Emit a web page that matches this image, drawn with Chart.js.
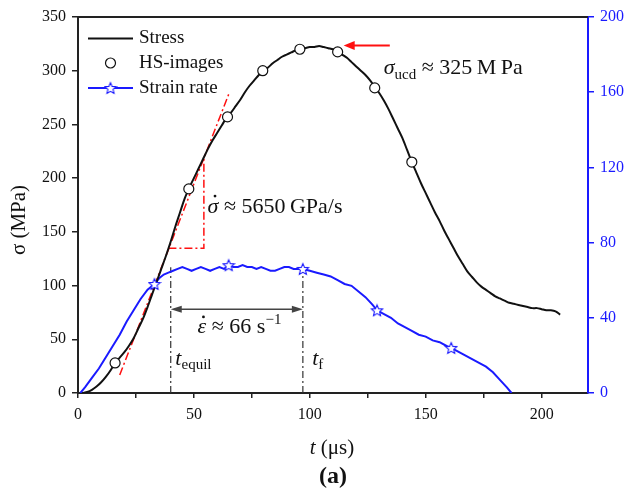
<!DOCTYPE html>
<html>
<head>
<meta charset="utf-8">
<script src="https://cdn.jsdelivr.net/npm/chart.js@4/dist/chart.umd.min.js"></script>
<style>
  html, body { margin: 0; padding: 0; background: #fff; }
</style>
</head>
<body>
<canvas id="chart" width="627" height="492"></canvas>
<script>
const SERIF = '"Liberation Serif", "Times New Roman", serif';

// stress vs time (MPa)
const stressT = [2, 4, 6, 8, 10, 12, 14, 16, 18, 20, 22, 24, 26, 28, 30, 32, 34, 36, 38, 40,
  42, 44, 46, 48, 50, 52, 54, 56, 58, 60, 62, 64, 66, 68, 70, 72, 74, 76, 78, 80,
  82, 84, 86, 88, 90, 92, 94, 96, 98, 100, 102, 104, 106, 108, 110, 112, 114, 116, 118, 120,
  122, 124, 126, 128, 130, 132, 134, 136, 138, 140, 142, 144, 146, 148, 150, 152, 154, 156, 158, 160,
  162, 164, 166, 168, 170, 172, 174, 176, 178, 180, 182, 184, 186, 188, 190, 192, 194, 196, 198, 200,
  202, 204, 206, 208];
const stressVal = [0, 1, 3, 6, 10, 15, 21, 28, 33, 38, 44, 51, 60, 69, 80, 92, 104, 116, 128, 141,
  155, 168, 181, 191, 200, 209, 218, 227, 235, 242, 249, 256, 261, 267, 273, 280, 286, 291, 296, 300,
  303, 307, 310, 313, 315, 317, 319, 320, 321, 322, 322, 323, 322, 321, 320, 318, 315, 312, 308, 304,
  300, 296, 291, 285, 279, 272, 264, 255, 246, 237, 226, 215, 205, 195, 186, 177, 168, 160, 151, 143,
  135, 127, 120, 113, 108, 103, 99, 96, 93, 90, 88, 86, 84, 83, 82, 81, 80, 79, 79, 78,
  77, 77, 76, 73];

// high-speed image frames on the stress curve
const imgT = [16, 47.8, 64.5, 79.7, 95.7, 112, 128, 144];
const imgVal = [28, 190, 257, 300, 320, 317.5, 284, 215];

// strain rate vs time (1/s), right axis
const rateT = [1, 3, 6, 9, 12, 15, 18, 21, 24, 27, 30, 33, 35, 37, 39, 41, 43, 45, 47, 49,
  51, 53, 55, 57, 59, 61, 63, 65, 67, 69, 71, 73, 75, 77, 79, 81, 83, 85, 87, 89,
  91, 93, 95, 97, 100, 103, 106, 109, 112, 115, 118, 121, 124, 127, 129, 132, 135, 138, 141, 144,
  147, 150, 153, 156, 159, 161, 164, 167, 170, 173, 176, 179, 182, 185, 187];
const rateVal = [0, 3, 8, 13, 19, 25, 31, 38, 44, 50, 55, 58, 61, 63, 64, 65, 66, 67, 66, 65,
  66, 67, 66, 65, 66, 67, 66, 68, 67, 67, 68, 67, 67, 66, 67, 66, 65, 65, 66, 67,
  67, 66, 66, 66, 65, 64, 63, 62, 60, 58, 57, 54, 51, 47, 44, 42, 40, 37, 35, 33,
  31, 30, 28, 27, 25, 24, 22, 20, 18, 16, 14, 11, 7, 3, 0];
const starT = [33, 65, 97, 129, 161];
const starVal = [58, 68, 66, 44, 24];

// guide lines (time, stress)
const tangentT = [18, 65];
const tangentS = [16.8, 278];
const triangleT = [39, 54.3, 54.3];
const triangleS = [134.7, 134.7, 220];
const equilT = [40, 40];
const equilS = [0, 117];
const failT = [97, 97];
const failS = [0, 115];
const spanT = [40, 97];
const spanS = 78;
const peakArrowT = [134.5, 114.6];
const peakArrowS = 323.5;

const pts = (xs, ys) => xs.map((v, i) => ({ x: v, y: ys[i] }));

function makeStar(size, color) {
  const c = document.createElement('canvas');
  c.width = c.height = size;
  const g = c.getContext('2d');
  const cx = size / 2, cy = size / 2 + 0.6, R = size / 2 - 1, r = R * 0.45;
  g.beginPath();
  for (let i = 0; i < 10; i++) {
    const a = -Math.PI / 2 + i * Math.PI / 5;
    const rad = i % 2 ? r : R;
    g.lineTo(cx + rad * Math.cos(a), cy + rad * Math.sin(a));
  }
  g.closePath();
  g.fillStyle = '#fff';
  g.fill();
  g.strokeStyle = color;
  g.lineWidth = 1.1;
  g.stroke();
  return c;
}
const star = makeStar(14, '#1a1aff');

function arrowHead(ctx, x0, y0, x1, y1, len, half) {
  const a = Math.atan2(y1 - y0, x1 - x0);
  ctx.beginPath();
  ctx.moveTo(x1, y1);
  ctx.lineTo(x1 - len * Math.cos(a) + half * Math.sin(a), y1 - len * Math.sin(a) - half * Math.cos(a));
  ctx.lineTo(x1 - len * Math.cos(a) - half * Math.sin(a), y1 - len * Math.sin(a) + half * Math.cos(a));
  ctx.closePath();
  ctx.fill();
}

// draw mixed runs of text; each part {t, f, dy}
function runs(ctx, x, y, parts) {
  const out = [];
  for (const p of parts) {
    ctx.font = p.f;
    ctx.fillText(p.t, x, y + (p.dy || 0));
    const w = ctx.measureText(p.t).width;
    out.push({ x, w });
    x += w;
  }
  return out;
}

const decor = {
  id: 'decor',
  afterDraw(chart) {
    const { ctx, chartArea: a, scales: { x, y } } = chart;
    const px = v => x.getPixelForValue(v), py = v => y.getPixelForValue(v);
    ctx.save();

    // top frame
    ctx.strokeStyle = '#222';
    ctx.lineWidth = 2;
    ctx.beginPath();
    ctx.moveTo(a.left - 1, a.top);
    ctx.lineTo(a.right, a.top);
    ctx.stroke();

    // double arrow for the constant strain-rate span
    ctx.strokeStyle = '#444';
    ctx.fillStyle = '#444';
    ctx.lineWidth = 1.6;
    const ay = py(spanS);
    ctx.beginPath();
    ctx.moveTo(px(spanT[0]) + 4, ay);
    ctx.lineTo(px(spanT[1]) - 4, ay);
    ctx.stroke();
    arrowHead(ctx, px(spanT[1]), ay, px(spanT[0]), ay, 11, 3.5);
    arrowHead(ctx, px(spanT[0]), ay, px(spanT[1]), ay, 11, 3.5);

    // red arrow to the peak
    ctx.strokeStyle = '#ff1010';
    ctx.fillStyle = '#ff1010';
    ctx.lineWidth = 2;
    const ry = py(peakArrowS);
    ctx.beginPath();
    ctx.moveTo(px(peakArrowT[0]), ry);
    ctx.lineTo(px(peakArrowT[1]) + 6, ry);
    ctx.stroke();
    arrowHead(ctx, px(peakArrowT[0]), ry, px(peakArrowT[1]), ry, 11, 4.5);

    // legend
    ctx.textBaseline = 'middle';
    ctx.textAlign = 'left';
    ctx.fillStyle = '#111';
    ctx.font = '19px ' + SERIF;
    const rows = [38.5, 63, 88];
    ctx.strokeStyle = '#111';
    ctx.lineWidth = 2;
    ctx.beginPath(); ctx.moveTo(88, rows[0]); ctx.lineTo(133, rows[0]); ctx.stroke();
    ctx.fillText('Stress', 139, rows[0]);
    ctx.beginPath(); ctx.arc(110.5, rows[1], 5, 0, Math.PI * 2);
    ctx.fillStyle = '#fff'; ctx.fill();
    ctx.lineWidth = 1.2; ctx.stroke();
    ctx.fillStyle = '#111';
    ctx.fillText('HS-images', 139, rows[1]);
    ctx.strokeStyle = '#1a1aff';
    ctx.lineWidth = 2;
    ctx.beginPath(); ctx.moveTo(88, rows[2]); ctx.lineTo(133, rows[2]); ctx.stroke();
    ctx.drawImage(star, 110.5 - 7, rows[2] - 7);
    ctx.fillText('Strain rate', 139, rows[2]);

    // axis titles
    ctx.fillStyle = '#111';
    ctx.save();
    ctx.translate(19, 220);
    ctx.rotate(-Math.PI / 2);
    ctx.textAlign = 'center';
    ctx.font = '21px ' + SERIF;
    ctx.fillText('\u03c3 (MPa)', 0, 0);
    ctx.restore();

    ctx.textBaseline = 'alphabetic';
    const it21 = 'italic 21px ' + SERIF, up21 = '21px ' + SERIF;
    ctx.font = it21; const wT = ctx.measureText('t').width;
    ctx.font = up21; const wU = ctx.measureText(' (\u03bcs)').width;
    runs(ctx, 332 - (wT + wU) / 2, 454, [{ t: 't', f: it21 }, { t: ' (\u03bcs)', f: up21 }]);

    ctx.textAlign = 'center';
    ctx.textBaseline = 'middle';
    ctx.font = 'bold 24px ' + SERIF;
    ctx.fillText('(a)', 333, 477);

    // annotations
    ctx.textAlign = 'left';
    ctx.textBaseline = 'alphabetic';
    const it22 = 'italic 22px ' + SERIF, up22 = '22px ' + SERIF, sub = '15px ' + SERIF;

    let r = runs(ctx, px(55.9), py(167.5), [{ t: '\u03c3', f: it22 }, { t: ' \u2248 5650\u2009GPa/s', f: up22 }]);
    ctx.beginPath(); ctx.arc(r[0].x + r[0].w / 2 + 2, py(167.5) - 17, 1.4, 0, Math.PI * 2); ctx.fill();

    runs(ctx, px(131.9), py(297), [{ t: '\u03c3', f: it22 }, { t: 'ucd', f: sub, dy: 5 }, { t: ' \u2248 325\u2009M\u2009Pa', f: up22 }]);

    r = runs(ctx, px(51.6), py(55.9), [{ t: '\u03b5', f: it22 }, { t: ' \u2248 66 s', f: up22 }, { t: '\u22121', f: sub, dy: -9 }]);
    ctx.beginPath(); ctx.arc(r[0].x + r[0].w / 2 + 1.5, py(55.9) - 16, 1.4, 0, Math.PI * 2); ctx.fill();

    runs(ctx, px(42), py(26), [{ t: 't', f: it22 }, { t: 'equil', f: sub, dy: 4 }]);
    runs(ctx, px(101), py(26), [{ t: 't', f: it22 }, { t: 'f', f: sub, dy: 4 }]);

    ctx.restore();
  }
};

const tickFont = { family: SERIF, size: 16 };

new Chart(document.getElementById('chart').getContext('2d'), {
  type: 'line',
  data: {
    datasets: [
      {
        label: 'HS-images', data: pts(imgT, imgVal), showLine: false, order: 0,
        pointRadius: 5, pointBackgroundColor: '#fff', pointBorderColor: '#111', pointBorderWidth: 1.2
      },
      {
        label: 'stars', data: pts(starT, starVal), yAxisID: 'y2', showLine: false, order: 0,
        pointStyle: star, pointRadius: 7
      },
      {
        label: 'Stress', data: pts(stressT, stressVal), order: 1,
        borderColor: '#111', borderWidth: 2, pointRadius: 0, tension: 0.3
      },
      {
        label: 'Strain rate', data: pts(rateT, rateVal), yAxisID: 'y2', order: 1,
        borderColor: '#1a1aff', borderWidth: 2, pointRadius: 0, tension: 0
      },
      {
        label: 'tangent', data: pts(tangentT, tangentS), order: 2,
        borderColor: '#ff1010', borderWidth: 1.5, borderDash: [8, 3, 2, 3], pointRadius: 0
      },
      {
        label: 'triangle', data: pts(triangleT, triangleS), order: 2,
        borderColor: '#ff1010', borderWidth: 1.5, borderDash: [8, 3, 2, 3], pointRadius: 0
      },
      {
        label: 'equil', data: pts(equilT, equilS), order: 2,
        borderColor: '#333', borderWidth: 1.2, borderDash: [7, 3, 2, 3], pointRadius: 0
      },
      {
        label: 'fail', data: pts(failT, failS), order: 2,
        borderColor: '#333', borderWidth: 1.2, borderDash: [7, 3, 2, 3], pointRadius: 0
      }
    ]
  },
  options: {
    responsive: false,
    animation: false,
    layout: { padding: { top: 17, left: 0, right: 0, bottom: 0 } },
    plugins: { legend: { display: false }, tooltip: { enabled: false } },
    scales: {
      x: {
        type: 'linear', min: 0, max: 220,
        afterFit: s => { s.height = 99; },
        ticks: {
          stepSize: 25, includeBounds: false, autoSkip: false, maxRotation: 0,
          font: tickFont, color: '#111', padding: 7,
          callback: v => (v % 50 === 0 ? String(v) : '')
        },
        grid: { drawOnChartArea: false, drawTicks: true, tickLength: 5, color: '#222', lineWidth: 1.5 },
        border: { color: '#222', width: 2 }
      },
      y: {
        position: 'left', min: 0, max: 350,
        afterFit: s => { s.width = 78; },
        ticks: { stepSize: 50, font: tickFont, color: '#111', padding: 6 },
        grid: { drawOnChartArea: false, drawTicks: true, tickLength: 6, color: '#222', lineWidth: 1.5 },
        border: { color: '#222', width: 2 }
      },
      y2: {
        position: 'right', min: 0, max: 200,
        afterFit: s => { s.width = 39; },
        ticks: { stepSize: 40, font: tickFont, color: '#1a1aff', padding: 6 },
        grid: { drawOnChartArea: false, drawTicks: true, tickLength: 6, color: '#1a1aff', lineWidth: 1.5 },
        border: { color: '#1a1aff', width: 2 }
      }
    }
  },
  plugins: [decor]
});
</script>
</body>
</html>
